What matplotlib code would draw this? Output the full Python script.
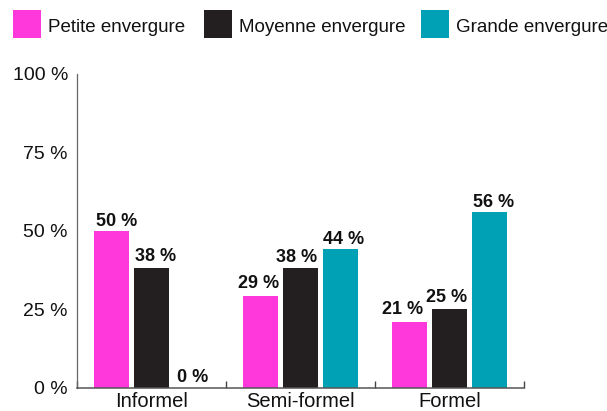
import matplotlib
matplotlib.use("Agg")
import matplotlib.pyplot as plt
import numpy as np
from matplotlib.patches import Rectangle

plt.rcParams['font.family'] = ['Liberation Sans', 'DejaVu Sans']

categories = ["Informel", "Semi-formel", "Formel"]
series_names = ["Petite envergure", "Moyenne envergure", "Grande envergure"]
petite = [50, 29, 21]
moyenne = [38, 38, 25]
grande = [0, 44, 56]
series_values = [petite, moyenne, grande]
colors = ["#FF38DC", "#231F20", "#00A0B5"]
yticks = [0, 25, 50, 75, 100]
ytick_labels = ["0 %", "25 %", "50 %", "75 %", "100 %"]

# label nudges in pixels (layout only): per series, per category
label_dx = [[5, -2.5, -7.5], [4, -4, -3], [1, 3, 4]]
label_gap = [[5, 8, 8], [7, 6.3, 6.7], [6, 5.7, 4.3]]

W, H = 607, 411
fig = plt.figure(figsize=(W / 100, H / 100), dpi=100)
ax = fig.add_axes([77 / W, (H - 387.5) / H, 447 / W, 314 / H])

x = np.arange(len(categories))
pitch = 0.268
width = 0.238
px2pt = 0.72
for i, (vals, col) in enumerate(zip(series_values, colors)):
    pos = x + (i - 1) * pitch
    ax.bar(pos, vals, width=width, color=col, zorder=2)
    for j, (p, v) in enumerate(zip(pos, vals)):
        ax.annotate(f"{v} %", xy=(p, v),
                    xytext=(label_dx[i][j] * px2pt, label_gap[i][j] * px2pt),
                    textcoords="offset points",
                    ha="center", va="baseline", fontsize=13, fontweight="bold",
                    color="#111111")

ax.set_xlim(-0.5, len(categories) - 0.5)
ax.set_ylim(0, 100)
ax.set_yticks(yticks)
ax.set_yticklabels(ytick_labels, fontsize=14, color="#111111")
ax.tick_params(axis="y", length=0, pad=6.5)

ax.set_xticks(np.arange(len(categories) + 1) - 0.5)
ax.set_xticklabels([])
ax.tick_params(axis="x", which="major", direction="in", length=5, width=1, color="#444444")
ax.set_xticks(x, minor=True)
ax.set_xticklabels(categories, minor=True, fontsize=14.5, color="#111111")
ax.tick_params(axis="x", which="minor", length=0, pad=3)

for s in ["top", "right"]:
    ax.spines[s].set_visible(False)
ax.spines["left"].set_color("#666666")
ax.spines["left"].set_linewidth(0.9)
ax.spines["bottom"].set_color("#555555")
ax.spines["bottom"].set_linewidth(1.1)

# legend
sq_x = [13, 204, 421]
for name, col, sx in zip(series_names, colors, sq_x):
    fig.add_artist(Rectangle((sx / W, (H - 38.5) / H), 28 / W, 28 / H,
                             transform=fig.transFigure, facecolor=col, edgecolor="none"))
    fig.text((sx + 35) / W, (H - 25) / H, name, fontsize=13.5, va="center_baseline",
             ha="left", color="#111111")

fig.savefig("out.png", dpi=100)
